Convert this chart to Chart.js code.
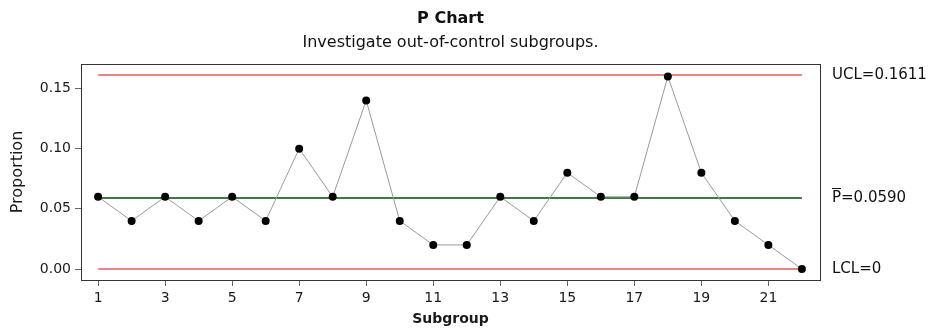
<!DOCTYPE html>
<html>
<head>
<meta charset="utf-8">
<script src="https://cdn.jsdelivr.net/npm/chart.js@4"></script>
<style>
  body { margin: 0; background: #fff; }
</style>
</head>
<body>
<canvas id="myChart" width="932" height="328"></canvas>
<script>
//*** So lieu
const subgroups = [1, 2, 3, 4, 5, 6, 7, 8, 9, 10, 11, 12, 13, 14, 15, 16, 17, 18, 19, 20, 21, 22];
const proportions = [0.06, 0.04, 0.06, 0.04, 0.06, 0.04, 0.10, 0.06, 0.14, 0.04, 0.02,
  0.02, 0.06, 0.04, 0.08, 0.06, 0.06, 0.16, 0.08, 0.04, 0.02, 0.00];
const ucl = 0.1611;
const pbar = 0.0590;
const lcl = 0;
const xTicks = [1, 3, 5, 7, 9, 11, 13, 15, 17, 19, 21];
const yTicks = [0, 0.05, 0.10, 0.15];

Chart.defaults.font.family = "DejaVu Sans";
Chart.defaults.color = "#1a1a1a";

const points = subgroups.map((s, i) => ({ x: s, y: proportions[i] }));
const first = subgroups[0];
const last = subgroups[subgroups.length - 1];
const limitLine = (v) => [{ x: first, y: v }, { x: last, y: v }];

//*** ve tieu de, khung va nhan gioi han
const pchartPlugin = {
  id: "pchart",
  afterDraw(chart) {
    const ctx = chart.ctx;
    const a = chart.chartArea;
    const y = chart.scales.y;
    const cx = (a.left + a.right) / 2;
    ctx.save();
    ctx.strokeStyle = "#333";
    ctx.lineWidth = 1;
    ctx.strokeRect(Math.round(a.left) + 0.5, Math.round(a.top) + 0.5,
      Math.round(a.right - a.left), Math.round(a.bottom - a.top));

    ctx.fillStyle = "#111";
    ctx.textAlign = "center";
    ctx.textBaseline = "middle";
    ctx.font = "bold 16px 'DejaVu Sans'";
    ctx.fillText("P Chart", cx, 19);
    ctx.font = "16px 'DejaVu Sans'";
    ctx.fillText("Investigate out-of-control subgroups.", cx, 43);

    ctx.textAlign = "left";
    ctx.font = "15px 'DejaVu Sans'";
    const lx = a.right + 12;
    ctx.fillText("UCL=" + ucl.toFixed(4), lx, y.getPixelForValue(ucl));
    const py = y.getPixelForValue(pbar);
    ctx.fillText("P=" + pbar.toFixed(4), lx, py);
    const pw = ctx.measureText("P").width;
    ctx.beginPath();
    ctx.moveTo(lx, Math.round(py) - 9.5);
    ctx.lineTo(lx + pw, Math.round(py) - 9.5);
    ctx.strokeStyle = "#111";
    ctx.stroke();
    ctx.fillText("LCL=" + lcl, lx, y.getPixelForValue(lcl));
    ctx.restore();
  },
};

const config = {
  type: "scatter",
  data: {
    datasets: [
      {
        data: points,
        showLine: true,
        borderColor: "#9a9a9a",
        borderWidth: 1,
        pointRadius: 4,
        pointBackgroundColor: "#000",
        pointBorderColor: "#000",
        pointBorderWidth: 0,
      },
      {
        data: limitLine(ucl),
        showLine: true,
        borderColor: "#e8585a",
        borderWidth: 1.5,
        pointRadius: 0,
      },
      {
        data: limitLine(pbar),
        showLine: true,
        borderColor: "#004d00",
        borderWidth: 1.3,
        pointRadius: 0,
      },
      {
        data: limitLine(lcl),
        showLine: true,
        borderColor: "#e8585a",
        borderWidth: 1.5,
        pointRadius: 0,
      },
    ],
  },
  options: {
    responsive: false,
    animation: false,
    layout: { padding: { top: 64, right: 112, left: 0, bottom: 0 } },
    plugins: {
      legend: { display: false },
      tooltip: { enabled: false },
    },
    scales: {
      x: {
        type: "linear",
        min: 0.49,
        max: 22.54,
        afterBuildTicks: (s) => { s.ticks = xTicks.map((v) => ({ value: v })); },
        afterFit: (s) => { s.height = 48; },
        ticks: { font: { size: 14 }, padding: 4, callback: (v) => v },
        grid: { drawOnChartArea: false, tickLength: 6, color: "#666" },
        border: { display: false },
        title: {
          display: true,
          text: "Subgroup",
          font: { size: 14, weight: "bold" },
          padding: { top: 0, bottom: 0 },
        },
      },
      y: {
        min: -0.0091,
        max: 0.1703,
        afterBuildTicks: (s) => { s.ticks = yTicks.map((v) => ({ value: v })); },
        afterFit: (s) => { s.width = 81; },
        ticks: { font: { size: 14 }, padding: 4, callback: (v) => v.toFixed(2) },
        grid: { drawOnChartArea: false, tickLength: 6, color: "#666" },
        border: { display: false },
        title: {
          display: true,
          text: "Proportion",
          font: { size: 16 },
          padding: { top: 8, bottom: 0 },
        },
      },
    },
  },
  plugins: [pchartPlugin],
};

var myChart = new Chart(document.getElementById("myChart"), config);
</script>
</body>
</html>
